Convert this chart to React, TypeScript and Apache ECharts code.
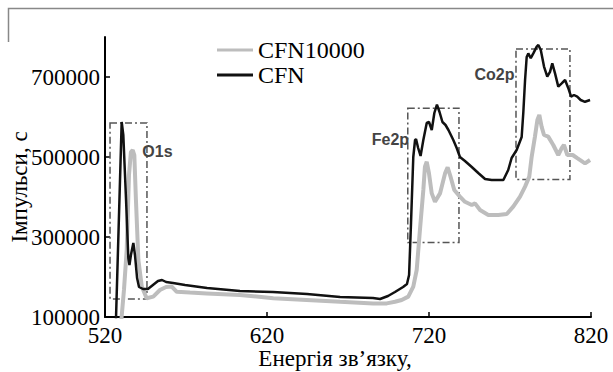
import React, { useEffect, useRef } from "react";
import * as echarts from "echarts";

const SERIES_NAMES = ["CFN10000", "CFN"];

const xTicks = [520, 620, 720, 820];
const yTicks = [100000, 300000, 500000, 700000];

const cfn10000: [number, number][] = [
  [529.3, 55000], [531.7, 167500], [533.4, 267500], [534.8, 455000], [536.0, 512500],
  [537.1, 517500], [538.1, 505000], [539.1, 392500], [540.6, 242500], [542.7, 176000],
  [545.7, 147000], [549.8, 151000], [553.9, 167500], [557.7, 175000], [561.2, 176000],
  [564.3, 163000], [572.5, 161000], [582.8, 159000], [603.3, 155000], [623.9, 147000],
  [644.5, 142500], [665.1, 138000], [685.6, 134000], [693.9, 134000], [699.0, 138000],
  [703.1, 142500], [707.2, 151000], [710.3, 176000], [712.4, 217500], [714.4, 317500],
  [716.5, 417500], [717.5, 476000], [718.6, 488000], [720.0, 459000], [721.7, 409000],
  [723.7, 388000], [726.8, 409000], [729.9, 459000], [731.5, 474000], [733.0, 455000],
  [735.6, 417500], [739.1, 401000], [742.2, 388000], [746.4, 380000], [748.4, 384000],
  [751.5, 367500], [756.6, 355000], [762.8, 355000], [768.0, 357500], [772.0, 376000],
  [776.2, 401000], [779.3, 426000], [781.9, 451000], [783.4, 501000], [785.4, 551000],
  [786.9, 592500], [788.1, 605000], [789.5, 576000], [791.0, 555000], [793.6, 551000],
  [796.7, 530000], [799.8, 505000], [801.9, 522000], [803.3, 530000], [805.4, 505000],
  [808.7, 505000], [811.5, 497000], [816.3, 484000], [819.4, 492500],
];

const cfn: [number, number][] = [
  [526.5, 55000], [530.3, 587500], [531.3, 555000], [533.0, 392500], [534.4, 247500],
  [535.1, 230000], [536.0, 255000], [537.5, 285000], [538.5, 255000], [539.8, 197500],
  [541.0, 175000], [543.5, 170000], [546.5, 170000], [549.6, 180000], [552.7, 190000],
  [555.2, 192500], [557.7, 187500], [562.0, 185000], [569.4, 180000], [583.0, 172500],
  [603.3, 165000], [623.7, 162500], [644.7, 157500], [665.1, 150000], [685.4, 147500],
  [689.8, 145000], [694.7, 152500], [699.0, 162500], [704.0, 175000], [706.4, 182500],
  [707.7, 205000], [708.9, 335000], [710.3, 500000], [711.4, 542500], [712.0, 545000],
  [713.3, 522500], [714.8, 502500], [716.5, 542500], [718.6, 585000], [720.0, 587500],
  [721.7, 567500], [723.3, 610000], [724.9, 631000], [726.5, 612500], [728.3, 587500],
  [730.2, 580000], [732.0, 567500], [735.0, 542500], [737.1, 522500], [739.1, 500000],
  [742.2, 490000], [746.4, 475000], [750.4, 460000], [754.6, 445000], [758.7, 442500],
  [762.8, 442500], [765.9, 442500], [768.9, 467500], [771.0, 497500], [774.1, 517500],
  [777.2, 550000], [778.2, 610000], [779.3, 692500], [780.3, 750000], [781.3, 759000],
  [782.8, 747000], [784.4, 759000], [786.5, 776000], [787.5, 780000], [789.0, 767500],
  [791.0, 726000], [793.0, 701000], [794.7, 713000], [796.1, 734000], [797.8, 709000],
  [799.8, 676000], [801.9, 684000], [804.0, 692500], [806.0, 672000], [807.7, 651000],
  [809.5, 655000], [811.5, 651000], [813.6, 642500], [816.3, 638000], [819.4, 642500],
];

// Peak regions: [xStart, yTop, xEnd, yBottom]
const regionNames = ["O1s", "Fe2p", "Co2p"];
const regionBoxes: [number, number, number, number][] = [
  [523.1, 585000, 545.9, 145000],
  [706.9, 622000, 738.5, 286000],
  [773.7, 770000, 807.0, 444000],
];
const regionLabelPos: [number, number][] = [
  [552.4, 513750],
  [696.2, 545000],
  [760.4, 707500],
];

const SERIF = '"Liberation Serif", "Times New Roman", serif';

export default function App() {
  const ref = useRef<HTMLDivElement>(null);
  useEffect(() => {
    if (!ref.current) return;
    const chart = echarts.init(ref.current, undefined, { renderer: "svg" });
    chart.setOption({
      animation: false,
      backgroundColor: "#ffffff",
      grid: { left: 105, right: 22, top: 37, bottom: 55, outerBoundsMode: "none" },
      legend: {
        data: SERIES_NAMES,
        orient: "vertical",
        left: 212,
        top: 33,
        icon: "rect",
        itemWidth: 36,
        itemHeight: 3,
        itemGap: 1,
        textStyle: { fontFamily: SERIF, fontSize: 24, color: "#000", lineHeight: 24 },
      },
      xAxis: {
        type: "value",
        min: 520,
        max: 820,
        splitLine: { show: false },
        axisLine: { show: true, lineStyle: { color: "#000", width: 2 } },
        axisTick: { show: true, inside: true, length: 5, customValues: xTicks, lineStyle: { color: "#000", width: 1.5 } },
        axisLabel: {
          customValues: xTicks,
          margin: 7,
          fontFamily: SERIF,
          fontSize: 23,
          color: "#000",
          formatter: (v: number) => String(v),
        },
      },
      yAxis: {
        type: "value",
        min: 100000,
        max: 800000,
        splitLine: { show: false },
        axisLine: { show: true, lineStyle: { color: "#000", width: 2 } },
        axisTick: { show: true, inside: true, length: 5, customValues: yTicks, lineStyle: { color: "#000", width: 1.5 } },
        axisLabel: {
          customValues: yTicks,
          margin: 5,
          fontFamily: SERIF,
          fontSize: 23,
          color: "#000",
          formatter: (v: number) => String(v),
        },
      },
      series: [
        {
          name: SERIES_NAMES[0],
          type: "line",
          data: cfn10000,
          showSymbol: false,
          symbol: "none",
          clip: true,
          lineStyle: { color: "#bdbdbd", width: 4 },
          itemStyle: { color: "#bdbdbd" },
          z: 2,
        },
        {
          name: SERIES_NAMES[1],
          type: "line",
          data: cfn,
          showSymbol: false,
          symbol: "none",
          clip: true,
          lineStyle: { color: "#111111", width: 2.5 },
          itemStyle: { color: "#111111" },
          z: 3,
          markArea: {
            silent: true,
            itemStyle: {
              color: "rgba(0,0,0,0)",
              borderColor: "#555",
              borderWidth: 1.5,
              borderType: [7, 3, 2, 3],
            },
            label: { show: false },
            data: regionBoxes.map((b) => [
              { xAxis: b[0], yAxis: b[1] },
              { xAxis: b[2], yAxis: b[3] },
            ]),
          },
          markPoint: {
            silent: true,
            symbol: "circle",
            symbolSize: 1,
            itemStyle: { color: "rgba(0,0,0,0)" },
            label: {
              show: true,
              position: "inside",
              formatter: (p: any) => p.name,
              fontFamily: '"Liberation Sans", Arial, sans-serif',
              fontWeight: "bold",
              fontSize: 16,
              color: "#444",
            },
            data: regionNames.map((n, i) => ({ name: n, coord: regionLabelPos[i] })),
          },
        },
      ],
      graphic: [
        {
          type: "polyline",
          shape: { points: [[8.5, 42], [8.5, 8.5], [613, 8.5]] },
          style: { stroke: "#888", lineWidth: 1.5, fill: "none" },
          silent: true,
        },
        {
          type: "text",
          x: 19,
          y: 187,
          rotation: Math.PI / 2,
          style: {
            text: "Імпульси, с",
            fontFamily: SERIF,
            fontSize: 23,
            fill: "#000",
            textAlign: "center",
            textVerticalAlign: "middle",
          },
          silent: true,
        },
        {
          type: "text",
          x: 335,
          y: 358,
          style: {
            text: "Енергія зв’язку,",
            fontFamily: SERIF,
            fontSize: 23,
            fill: "#000",
            textAlign: "center",
            textVerticalAlign: "middle",
          },
          silent: true,
        },
      ],
    });
    return () => chart.dispose();
  }, []);
  return (
    <div
      ref={ref}
      style={{ position: "fixed", left: 0, top: 0, width: 613, height: 372 }}
    />
  );
}
